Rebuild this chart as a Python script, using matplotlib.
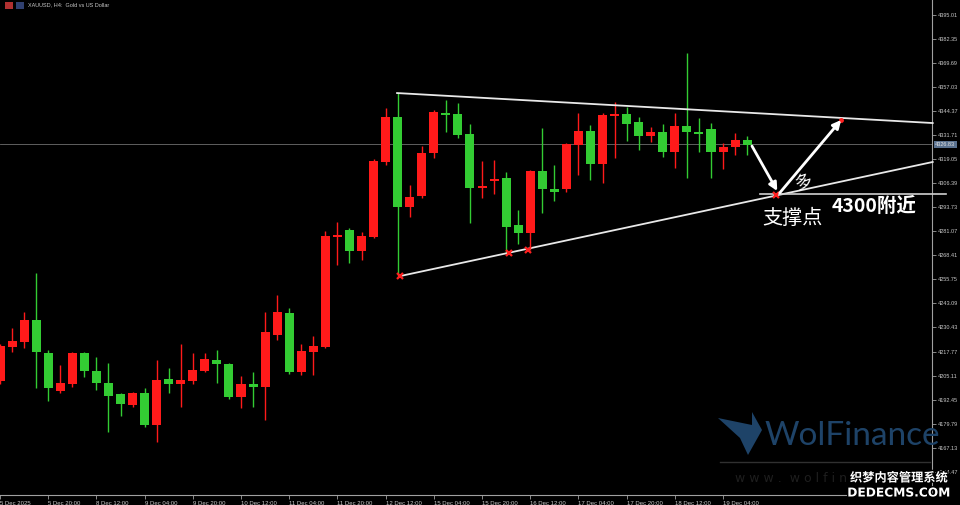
import matplotlib
matplotlib.use("Agg")
import matplotlib.pyplot as plt
import matplotlib.patheffects as pe
import numpy as np

plt.rcParams['font.family'] = ['DejaVu Sans', 'Noto Sans CJK SC']

# XAUUSD H4 candles, 5 Dec 04:00 .. 19 Dec 12:00
opens = [4202.2, 4220.1, 4222.8, 4234.4, 4217.0, 4197.0, 4200.7, 4217.0, 4207.5, 4201.2,
         4195.4, 4189.6, 4195.9, 4179.1, 4203.3, 4200.7, 4202.2, 4207.5, 4213.3, 4211.2,
         4193.8, 4200.7, 4199.1, 4226.5, 4238.1, 4207.0, 4217.5, 4220.1, 4278.1, 4281.8,
         4270.7, 4278.1, 4317.6, 4341.3, 4293.9, 4299.7, 4322.3, 4343.4, 4342.9, 4332.3,
         4303.9, 4307.6, 4309.2, 4284.4, 4280.2, 4312.8, 4303.4, 4303.4, 4326.5, 4333.9,
         4316.5, 4341.8, 4342.9, 4338.7, 4331.3, 4333.4, 4322.9, 4336.5, 4333.4, 4335.0,
         4322.9, 4325.5, 4329.2]
highs = [4221.7, 4230.2, 4238.6, 4259.1, 4218.6, 4210.7, 4217.5, 4217.5, 4214.9, 4211.7,
         4195.9, 4196.4, 4198.6, 4213.3, 4209.1, 4221.7, 4217.0, 4217.0, 4218.6, 4211.7,
         4204.9, 4207.0, 4238.6, 4247.5, 4240.7, 4221.7, 4225.9, 4281.2, 4286.0, 4282.8,
         4280.7, 4319.2, 4346.0, 4353.9, 4305.5, 4326.0, 4345.0, 4350.2, 4348.7, 4337.6,
         4318.1, 4318.6, 4312.3, 4292.3, 4313.4, 4335.5, 4316.0, 4327.6, 4343.4, 4337.1,
         4343.4, 4349.2, 4346.6, 4341.3, 4336.0, 4337.6, 4343.4, 4375.0, 4340.8, 4338.1,
         4327.6, 4332.9, 4331.3]
lows = [4200.7, 4217.5, 4219.6, 4198.6, 4191.7, 4195.9, 4199.1, 4204.3, 4197.5, 4175.4,
        4183.8, 4188.5, 4178.0, 4170.1, 4195.9, 4188.5, 4200.7, 4207.0, 4201.2, 4192.8,
        4188.0, 4188.5, 4181.7, 4223.8, 4205.9, 4205.4, 4205.4, 4219.6, 4263.3, 4264.4,
        4266.0, 4277.6, 4316.0, 4257.5, 4288.6, 4298.6, 4319.7, 4333.4, 4330.2, 4285.5,
        4298.6, 4300.7, 4269.1, 4274.4, 4271.2, 4290.7, 4297.0, 4301.8, 4310.7, 4308.1,
        4306.5, 4319.7, 4328.6, 4323.9, 4328.1, 4320.2, 4314.4, 4309.2, 4322.9, 4309.2,
        4313.9, 4321.3, 4321.3]
closes = [4220.7, 4223.3, 4234.4, 4217.5, 4198.6, 4201.2, 4217.0, 4207.5, 4201.2, 4194.3,
          4190.1, 4195.9, 4179.1, 4202.8, 4200.7, 4202.8, 4208.0, 4213.8, 4211.2, 4193.8,
          4200.7, 4199.1, 4228.0, 4238.6, 4207.0, 4218.0, 4220.7, 4278.6, 4279.1, 4270.7,
          4278.6, 4318.1, 4341.3, 4293.9, 4299.2, 4322.3, 4343.9, 4342.3, 4331.8, 4303.9,
          4304.9, 4308.6, 4283.3, 4280.2, 4312.8, 4303.4, 4301.8, 4327.1, 4333.9, 4316.5,
          4342.3, 4342.9, 4337.6, 4331.3, 4333.4, 4322.9, 4336.5, 4333.4, 4332.3, 4322.9,
          4325.5, 4329.2, 4326.8]

time_labels = ["5 Dec 2025", "5 Dec 20:00", "8 Dec 12:00", "9 Dec 04:00", "9 Dec 20:00",
               "10 Dec 12:00", "11 Dec 04:00", "11 Dec 20:00", "12 Dec 12:00", "15 Dec 04:00",
               "15 Dec 20:00", "16 Dec 12:00", "17 Dec 04:00", "17 Dec 20:00", "18 Dec 12:00",
               "19 Dec 04:00"]
time_label_bars = [0, 4, 8, 12, 16, 20, 24, 28, 32, 36, 40, 44, 48, 52, 56, 60]

price_ticks = [4154.47, 4167.13, 4179.79, 4192.45, 4205.11, 4217.77, 4230.43, 4243.09,
               4255.75, 4268.41, 4281.07, 4293.73, 4306.39, 4319.05, 4331.71, 4344.37,
               4357.03, 4369.69, 4382.35, 4395.01]
last_price = 4326.83

# drawn objects (bar index, price)
upper_line = [(32.95, 4353.9), (77.4, 4338.1)]
lower_line = [(33.2, 4257.5), (77.4, 4317.6)]
support_level = 4300.9
support_span = (63.1, 78.5)
x_marks = [(33.2, 4257.5), (42.2, 4269.6), (43.8, 4271.2), (64.4, 4300.2)]
arrow_down = [(62.4, 4326.0), (64.5, 4302.3)]
arrow_up = [(64.7, 4301.3), (69.8, 4339.7)]

UP = '#ff1a1a'
DOWN = '#33cc33'
BG = 'black'
AXFONT = 'Liberation Sans'

fig = plt.figure(figsize=(9.6, 5.05), dpi=100, facecolor=BG)
ax = fig.add_axes([0, 10 / 505, 932 / 960, 495 / 505], facecolor=BG)

idx = np.arange(len(opens))
o = np.array(opens)
c = np.array(closes)
cols = [UP if cc >= oo else DOWN for oo, cc in zip(o, c)]
ax.vlines(idx, lows, highs, colors=cols, linewidth=1, zorder=2)
body_h = np.maximum(np.abs(c - o), 0.9)
ax.bar(idx, body_h, bottom=np.minimum(o, c), width=0.75, color=cols,
       edgecolor=cols, linewidth=0, zorder=3)

# last price line
ax.axhline(last_price, color='#6e6e6e', lw=0.6, zorder=1)

# triangle lines
for ln in (upper_line, lower_line):
    ax.plot([ln[0][0], ln[1][0]], [ln[0][1], ln[1][1]], color='#e8e8e8', lw=1.3,
            zorder=4, clip_on=False)
ax.plot(support_span, [support_level, support_level], color='#d0d0d0', lw=1.2,
        zorder=4, clip_on=False)
for xm, ym in x_marks:
    ax.plot(xm, ym, marker='x', color='#ff2020', ms=5, mew=1.6, zorder=5)
ax.plot(arrow_up[1][0], arrow_up[1][1], marker='o', color='#ff2020', ms=2.5, zorder=5)

for a in (arrow_down, arrow_up):
    ax.annotate('', xy=a[1], xytext=a[0],
                arrowprops=dict(arrowstyle='-|>', color='white', lw=2,
                                mutation_scale=12, shrinkA=0, shrinkB=0), zorder=6)

cjk = ['Noto Sans CJK SC', 'DejaVu Sans']
ax.text(65.8, 4288.0, '支撑点', color='white', fontsize=14.5, family=cjk,
        ha='center', va='center', zorder=7)
ax.text(72.5, 4294.0, '4300附近', color='white', fontsize=14, family=cjk,
        fontweight='bold', ha='center', va='center', zorder=7)
ax.text(66.7, 4307.0, '多', color='white', fontsize=12.5, family=cjk, rotation=20,
        ha='center', va='center', zorder=7)

ax.set_xlim(0, 77.34)
ax.set_ylim(4142.19, 4402.91)

for s in ('top', 'left'):
    ax.spines[s].set_visible(False)
for s in ('right', 'bottom'):
    ax.spines[s].set_color('#a0a0a0')
    ax.spines[s].set_linewidth(0.8)

ax.yaxis.tick_right()
ax.set_yticks(price_ticks)
ax.set_yticklabels([f"{v:.2f}" for v in price_ticks], family=AXFONT)
ax.tick_params(axis='y', colors='#a0a0a0', labelcolor='#c8c8c8', labelsize=4.0,
               length=3, width=0.6, pad=1.2)
ax.set_xticks(time_label_bars)
ax.set_xticklabels(time_labels, ha='left', family=AXFONT)
ax.tick_params(axis='x', colors='#a0a0a0', labelcolor='#c8c8c8', labelsize=4.3,
               length=3, width=0.6, pad=1)

# current price tag
ax.text(1.0035, last_price, f"{last_price:.2f}", transform=ax.get_yaxis_transform(),
        color='#e0e0e0', fontsize=4.0, family=AXFONT, va='center', ha='left',
        bbox=dict(boxstyle='square,pad=0.25', fc='#5a7290', ec='none'), zorder=8,
        clip_on=False)

# header
fig.text(28 / 960, 1 - 5 / 505, 'XAUUSD, H4:  Gold vs US Dollar', color='#c8c8c8',
         fontsize=4.0, family=AXFONT, va='center', ha='left')
fig.patches.append(plt.Rectangle((5 / 960, 1 - 9 / 505), 8 / 960, 7 / 505,
                                 transform=fig.transFigure, fc='#b03030', ec='none'))
fig.patches.append(plt.Rectangle((16 / 960, 1 - 9 / 505), 8 / 960, 7 / 505,
                                 transform=fig.transFigure, fc='#304070', ec='none'))

# watermarks
fig.text(852 / 960, 1 - 436 / 505, 'WolFinance', color='#1e4368', fontsize=24,
         ha='center', va='center', family='Lato')
wolf = plt.Polygon([(718 / 960, 1 - 418 / 505), (752 / 960, 1 - 425 / 505),
                    (752 / 960, 1 - 412 / 505), (762 / 960, 1 - 430 / 505),
                    (748 / 960, 1 - 455 / 505), (740 / 960, 1 - 438 / 505)],
                   closed=True, transform=fig.transFigure, fc='#1e4368', ec='none')
fig.patches.append(wolf)
fig.lines.append(plt.Line2D([720 / 960, 930 / 960], [1 - 462 / 505, 1 - 462 / 505],
                            transform=fig.transFigure, color='#303030', lw=1))
fig.text(735 / 960, 1 - 478 / 505, 'w w w .  w o l f i n a n c e', color='#1e1e1e',
         fontsize=9, ha='left', va='center')
fig.text(899 / 960, 1 - 478 / 505, '织梦内容管理系统', color='white', fontsize=8.8,
         family=cjk, fontweight='bold', ha='center', va='center',
         path_effects=[pe.withStroke(linewidth=2, foreground='black')])
fig.text(899 / 960, 1 - 493 / 505, 'DEDECMS.COM', color='white', fontsize=8.8,
         fontweight='bold', ha='center', va='center',
         path_effects=[pe.withStroke(linewidth=2, foreground='black')])

fig.savefig('out.png', dpi=100, facecolor=BG)
